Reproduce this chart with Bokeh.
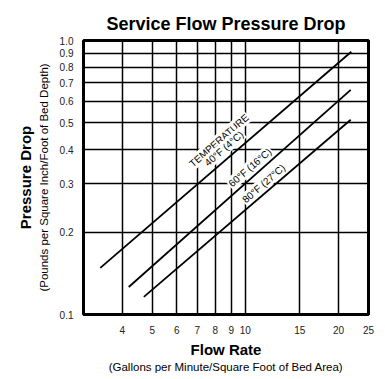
from bokeh.plotting import figure
from bokeh.models import Range1d, FixedTicker, LogAxis
from bokeh.core.properties import value
from bokeh.embed import file_html
from bokeh.resources import INLINE

# ---- data ----
x_ticks = [4, 5, 6, 7, 8, 9, 10, 15, 20, 25]
x_tick_labels = ["4", "5", "6", "7", "8", "9", "10", "15", "20", "25"]
y_ticks = [0.1, 0.2, 0.3, 0.4, 0.5, 0.6, 0.7, 0.8, 0.9, 1.0]
y_tick_labels = ["0.1", "0.2", "0.3", "0.4", "0.5", "0.6", "0.7", "0.8", "0.9", "1.0"]

flow_40F = [3.4, 22.0]
drop_40F = [0.148, 0.91]
flow_60F = [4.2, 21.9]
drop_60F = [0.126, 0.66]
flow_80F = [4.7, 21.9]
drop_80F = [0.116, 0.514]

label_text = ["TEMPERATURE", "40°F (4°C)", "60°F (16°C)", "80°F (27°C)"]
label_flow = [8.22, 8.53, 10.35, 11.47]
label_drop = [0.4315, 0.4035, 0.344, 0.3007]

title_text = "Service Flow Pressure Drop"
x_label = "Flow Rate"
x_sublabel = "(Gallons per Minute/Square Foot of Bed Area)"
y_label = "Pressure Drop"
y_sublabel = "(Pounds per Square Inch/Foot of Bed Depth)"

FONT = "Liberation Sans"

p = figure(width=385, height=379, x_axis_type="log", y_axis_type="log",
           x_range=Range1d(3, 25), y_range=Range1d(0.1, 1.0),
           output_backend="svg", toolbar_location=None,
           min_border_left=83, min_border_right=17, min_border_top=40, min_border_bottom=65,
           title=title_text)

p.background_fill_color = "white"
p.border_fill_color = "white"
p.outline_line_color = "black"
p.outline_line_width = 3

p.title.align = "center"
p.title.text_font = FONT
p.title.text_font_size = "18px"
p.title.text_font_style = "bold"
p.title.text_color = "black"
p.title.standoff = 13

for ax in (p.xaxis[0], p.yaxis[0]):
    ax.axis_line_color = None
    ax.major_tick_line_color = None
    ax.minor_tick_line_color = None
    ax.major_tick_out = 0
    ax.major_tick_in = 0
    ax.major_label_text_font = FONT
    ax.major_label_text_font_size = "10px"
    ax.major_label_text_color = "#222222"
    ax.axis_label_text_font = FONT
    ax.axis_label_text_color = "black"

p.xaxis[0].ticker = FixedTicker(ticks=x_ticks)
p.xaxis[0].major_label_overrides = dict(zip(x_ticks, x_tick_labels))
p.xaxis[0].major_label_standoff = 11
p.xaxis[0].axis_label = x_label
p.xaxis[0].axis_label_text_font_size = "15px"
p.xaxis[0].axis_label_text_font_style = "bold"
p.xaxis[0].axis_label_standoff = 4

p.yaxis[0].ticker = FixedTicker(ticks=y_ticks)
p.yaxis[0].major_label_overrides = dict(zip(y_ticks, y_tick_labels))
p.yaxis[0].major_label_standoff = 10
p.yaxis[0].axis_label = y_sublabel
p.yaxis[0].axis_label_text_font_size = "11.5px"
p.yaxis[0].axis_label_text_font_style = "normal"
p.yaxis[0].axis_label_standoff = 7


def extra_axis(label, size, style, standoff):
    a = LogAxis(ticker=FixedTicker(ticks=[]), axis_label=label)
    a.axis_line_color = None
    a.major_tick_line_color = None
    a.minor_tick_line_color = None
    a.major_tick_out = 0
    a.major_tick_in = 0
    a.major_label_standoff = 0
    a.axis_label_text_font = FONT
    a.axis_label_text_font_size = size
    a.axis_label_text_font_style = style
    a.axis_label_text_color = "black"
    a.axis_label_standoff = standoff
    return a


p.add_layout(extra_axis(x_sublabel, "11.5px", "normal", 0), "below")
p.add_layout(extra_axis(y_label, "15px", "bold", 1), "left")

p.grid.grid_line_color = "black"
p.grid.grid_line_width = 1.5

p.text(x=label_flow, y=label_drop, text=label_text, angle=0.716,
       text_align="center", text_baseline="middle",
       text_font=value(FONT), text_font_size="10px", text_color="black",
       background_fill_color="white", padding=1)

for fx, dy in ((flow_40F, drop_40F), (flow_60F, drop_60F), (flow_80F, drop_80F)):
    p.line(fx, dy, line_color="black", line_width=1.8)

open("out.html", "w").write(file_html(p, INLINE))
